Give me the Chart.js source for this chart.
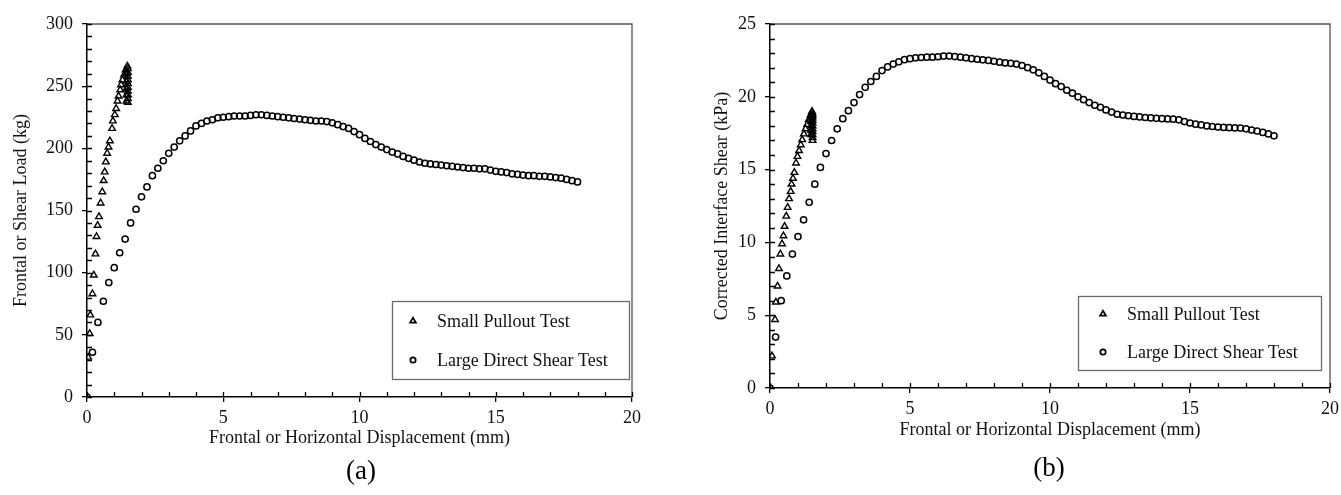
<!DOCTYPE html>
<html>
<head>
<meta charset="utf-8">
<script src="https://cdn.jsdelivr.net/npm/chart.js@4.4.1/dist/chart.umd.min.js"></script>
<style>
  html, body { margin: 0; padding: 0; background: #fff; }
  #wrap { position: relative; width: 1341px; height: 495px; overflow: hidden; background: #fff; }
  .cv { position: absolute; top: 0; }
  .cap { position: absolute; font-family: "Liberation Serif", "Times New Roman", serif; font-size: 27px; color: #000; transform: translate(-50%, -50%); white-space: nowrap; }
</style>
</head>
<body>
<div id="wrap">
  <div class="cv" style="left:0px;width:680px;height:460px;"><canvas id="chartA"></canvas></div>
  <div class="cv" style="left:690px;width:670px;height:460px;"><canvas id="chartB"></canvas></div>
  <div class="cap" style="left:361px;top:470px;">(a)</div>
  <div class="cap" style="left:1049px;top:467px;">(b)</div>
</div>
<script>
// ---------------- DATA ----------------
const seriesNames = ['Small Pullout Test', 'Large Direct Shear Test'];
const xTitle = 'Frontal or Horizontal Displacement (mm)';
const yTitleA = 'Frontal or Shear Load (kg)';
const yTitleB = 'Corrected Interface Shear (kPa)';
const xTicks = [0, 5, 10, 15, 20];
const yTicksA = [0, 50, 100, 150, 200, 250, 300];
const yTicksB = [0, 5, 10, 15, 20, 25];

// (a) Small pullout test: frontal displacement (mm) / frontal load (kg)
const pulloutXA = [0.04, 0.10, 0.12, 0.20, 0.25, 0.31, 0.35, 0.39, 0.44, 0.50, 0.56, 0.61, 0.65, 0.69, 0.74, 0.79, 0.84, 0.92, 0.95, 1.02, 1.07, 1.12, 1.16, 1.22, 1.25, 1.30, 1.36, 1.42, 1.48,
  1.50, 1.50, 1.50, 1.50, 1.50, 1.50, 1.50, 1.50, 1.50, 1.50, 1.45, 1.45, 1.45, 1.45, 1.45];
const pulloutYA = [32, 51, 66, 83, 98, 115, 129, 138, 145, 156, 165, 174, 181, 189, 196, 201, 206, 216, 222, 227, 232, 238, 242, 247, 251, 255, 259, 263, 266,
  264, 261, 258, 255, 252, 249, 246, 243, 240, 237, 260, 254, 248, 243, 238];

// (a) Large direct shear test: horizontal displacement (mm) / shear load (kg)
const shearX = [0, 0.2, 0.4, 0.6, 0.8, 1.0, 1.2, 1.4, 1.6, 1.8, 2.0, 2.2, 2.4, 2.6, 2.8, 3.0, 3.2, 3.4, 3.6, 3.8,
  4.0, 4.2, 4.4, 4.6, 4.8, 5.0, 5.2, 5.4, 5.6, 5.8, 6.0, 6.2, 6.4, 6.6, 6.8, 7.0, 7.2, 7.4, 7.6, 7.8,
  8.0, 8.2, 8.4, 8.6, 8.8, 9.0, 9.2, 9.4, 9.6, 9.8, 10.0, 10.2, 10.4, 10.6, 10.8, 11.0, 11.2, 11.4, 11.6, 11.8,
  12.0, 12.2, 12.4, 12.6, 12.8, 13.0, 13.2, 13.4, 13.6, 13.8, 14.0, 14.2, 14.4, 14.6, 14.8, 15.0, 15.2, 15.4, 15.6, 15.8,
  16.0, 16.2, 16.4, 16.6, 16.8, 17.0, 17.2, 17.4, 17.6, 17.8, 18.0];
const shearYA = [0, 36, 60, 77, 92, 104, 116, 127, 140, 151, 161, 169, 178, 184, 190, 196, 201, 206, 210, 214,
  218, 220, 222, 223, 224.5, 225, 225.5, 226, 226, 226, 226.5, 227, 227, 226.5, 226, 225.5, 225, 224.5, 224, 223.5,
  223, 222.5, 222, 222, 221.5, 220.5, 219, 217.5, 216, 213.5, 211, 208, 205.5, 203, 201, 199, 197, 195.5, 193.5, 192,
  190.5, 189, 188, 187.5, 187, 186.5, 186, 185.5, 185, 184.5, 184, 184, 183.5, 183.5, 182.5, 181.5, 181, 180.5, 179.5, 179,
  178.5, 178, 178, 177.5, 177.5, 177, 176.5, 176, 175, 174, 173];

// (b) Small pullout test: displacement (mm) / corrected interface shear (kPa)
const pulloutXB = [0.07, 0.18, 0.21, 0.27, 0.32, 0.37, 0.43, 0.48, 0.52, 0.58, 0.63, 0.68, 0.74, 0.77, 0.82, 0.87, 0.93, 0.98, 1.04, 1.10, 1.15, 1.21, 1.27, 1.33, 1.39, 1.45, 1.50,
  1.52, 1.52, 1.52, 1.52, 1.52, 1.52, 1.52, 1.52, 1.52, 1.52, 1.52, 1.47, 1.47, 1.47, 1.47, 1.47];
const pulloutYB = [2.2, 4.7, 5.9, 7.0, 8.2, 9.2, 9.9, 10.45, 11.1, 11.8, 12.4, 13.0, 13.5, 14.0, 14.4, 14.8, 15.45, 15.9, 16.3, 16.7, 17.05, 17.45, 17.8, 18.1, 18.45, 18.75, 19.0,
  18.85, 18.7, 18.55, 18.4, 18.2, 18.0, 17.8, 17.6, 17.4, 17.2, 17.0, 18.6, 18.3, 18.0, 17.7, 17.4];

// (b) Large direct shear test: corrected interface shear (kPa)
const shearYB = [0, 3.5, 6.0, 7.7, 9.2, 10.4, 11.55, 12.75, 14.0, 15.15, 16.1, 17.0, 17.8, 18.5, 19.05, 19.6, 20.15, 20.65, 21.05, 21.4,
  21.8, 22.05, 22.25, 22.4, 22.55, 22.62, 22.68, 22.7, 22.72, 22.72, 22.75, 22.8, 22.8, 22.76, 22.72, 22.68, 22.62, 22.58, 22.54, 22.5,
  22.44, 22.38, 22.33, 22.3, 22.25, 22.15, 22.0, 21.85, 21.65, 21.4, 21.15, 20.9, 20.7, 20.45, 20.25, 20.0, 19.8, 19.6, 19.42, 19.28,
  19.1, 18.95, 18.8, 18.75, 18.7, 18.65, 18.62, 18.58, 18.55, 18.52, 18.5, 18.48, 18.46, 18.42, 18.3, 18.2, 18.12, 18.07, 18.0, 17.96,
  17.92, 17.9, 17.88, 17.86, 17.85, 17.8, 17.72, 17.65, 17.55, 17.45, 17.32];

// ---------------- HELPERS ----------------
const FONT = '"Liberation Serif", "Times New Roman", serif';
const toPts = (xs, ys) => xs.map((x, i) => ({ x: x, y: ys[i] }));

function drawMarker(ctx, style, x, y, r) {
  ctx.beginPath();
  if (style === 'triangle') {
    let rad = 0;
    ctx.moveTo(x + Math.sin(rad) * r, y - Math.cos(rad) * r);
    rad += 2 * Math.PI / 3;
    ctx.lineTo(x + Math.sin(rad) * r, y - Math.cos(rad) * r);
    rad += 2 * Math.PI / 3;
    ctx.lineTo(x + Math.sin(rad) * r, y - Math.cos(rad) * r);
    ctx.closePath();
  } else {
    ctx.arc(x, y, r, 0, Math.PI * 2);
  }
  ctx.stroke();
}

const framePlugin = {
  id: 'frame',
  afterDraw(chart, args, o) {
    const { ctx, chartArea: a, scales } = chart;
    const x = scales.x, y = scales.y;
    ctx.save();
    // top and right border of plot box
    ctx.strokeStyle = o.boxColor; ctx.lineWidth = 1.3;
    ctx.beginPath();
    ctx.moveTo(a.left, a.top); ctx.lineTo(a.right, a.top); ctx.lineTo(a.right, a.bottom);
    ctx.stroke();
    // inward minor/major tick marks
    ctx.strokeStyle = '#000'; ctx.lineWidth = 1.3;
    ctx.beginPath();
    for (let v = x.min; v <= x.max + 1e-9; v += o.xMinor) {
      const px = Math.round(x.getPixelForValue(v)) + 0.5;
      ctx.moveTo(px, a.bottom); ctx.lineTo(px, a.bottom - o.len);
    }
    for (let v = y.min; v <= y.max + 1e-9; v += o.yMinor) {
      const py = Math.round(y.getPixelForValue(v)) + 0.5;
      ctx.moveTo(a.left, py); ctx.lineTo(a.left + o.len, py);
    }
    ctx.stroke();
    ctx.restore();
  }
};

const boxLegendPlugin = {
  id: 'boxLegend',
  afterDraw(chart, args, o) {
    const { ctx, chartArea: a } = chart;
    const x0 = a.right - o.right - o.width;
    const y0 = a.bottom - o.bottom - o.height;
    ctx.save();
    ctx.fillStyle = '#fff';
    ctx.fillRect(x0, y0, o.width, o.height);
    ctx.strokeStyle = '#6b6b6b'; ctx.lineWidth = 1.3;
    ctx.strokeRect(x0 + 0.5, y0 + 0.5, o.width, o.height);
    ctx.font = '18px ' + FONT;
    ctx.textBaseline = 'middle';
    ctx.textAlign = 'left';
    chart.data.datasets.forEach((ds, i) => {
      const cy = y0 + o.firstRow + i * o.rowGap;
      ctx.strokeStyle = '#000'; ctx.lineWidth = 1.7;
      drawMarker(ctx, ds.pointStyle, x0 + o.markerX, cy, ds.pointStyle === 'triangle' ? 3.4 : 2.7);
      ctx.fillStyle = '#111';
      ctx.fillText(ds.label, x0 + o.textX, cy + 1);
    });
    ctx.restore();
  }
};

function makeChart(id, cfg) {
  const tickFont = { family: FONT, size: 18 };
  return new Chart(document.getElementById(id), {
    type: 'scatter',
    data: {
      datasets: [
        { label: seriesNames[0], data: toPts(cfg.pX, cfg.pY), pointStyle: 'triangle', pointRadius: 3.8,
          borderColor: '#000', backgroundColor: 'rgba(0,0,0,0)', borderWidth: 1.4, showLine: false },
        { label: seriesNames[1], data: toPts(shearX, cfg.sY), pointStyle: 'circle', pointRadius: 3.1,
          borderColor: '#000', backgroundColor: 'rgba(0,0,0,0)', borderWidth: 1.5, showLine: false }
      ]
    },
    options: {
      responsive: true,
      maintainAspectRatio: false,
      animation: false,
      events: [],
      layout: { padding: { left: 0, top: 24, right: cfg.padRight, bottom: 0 } },
      plugins: {
        legend: { display: false },
        tooltip: { enabled: false },
        frame: { boxColor: '#555', xMinor: 1, yMinor: cfg.yMinor, len: 5 },
        boxLegend: cfg.legend
      },
      scales: {
        x: {
          type: 'linear', min: 0, max: 20,
          afterBuildTicks: s => { s.ticks = xTicks.map(v => ({ value: v })); },
          afterFit: s => { s.height = cfg.xHeight; },
          border: { display: true, color: '#000', width: 1.5 },
          grid: { display: true, drawOnChartArea: false, drawTicks: true, tickLength: 5, color: '#000', lineWidth: 1.3 },
          ticks: { font: tickFont, color: '#111', padding: 5, maxRotation: 0 },
          title: { display: true, text: xTitle, font: tickFont, color: '#111', padding: { top: 0, bottom: cfg.xTitlePad } }
        },
        y: {
          type: 'linear', min: 0, max: cfg.yMax,
          afterBuildTicks: s => { s.ticks = cfg.yTicks.map(v => ({ value: v })); },
          afterFit: s => { s.width = cfg.yWidth; },
          border: { display: true, color: '#000', width: 1.5 },
          grid: { display: true, drawOnChartArea: false, drawTicks: true, tickLength: 5, color: '#000', lineWidth: 1.3 },
          ticks: { font: tickFont, color: '#111', padding: 9 },
          title: { display: true, text: cfg.yTitle, font: tickFont, color: '#111', padding: { top: cfg.yTitlePad, bottom: 0 } }
        }
      }
    },
    plugins: [framePlugin, boxLegendPlugin]
  });
}

makeChart('chartA', {
  pX: pulloutXA, pY: pulloutYA, sY: shearYA,
  yMax: 300, yTicks: yTicksA, yMinor: 10, yTitle: yTitleA,
  padRight: 48, yWidth: 87, xHeight: 63, xTitlePad: 11, yTitlePad: 10,
  legend: { right: 3, bottom: 18, width: 237, height: 78, firstRow: 20, rowGap: 39, markerX: 21, textX: 45 }
});
makeChart('chartB', {
  pX: pulloutXB, pY: pulloutYB, sY: shearYB,
  yMax: 25, yTicks: yTicksB, yMinor: 1, yTitle: yTitleB,
  padRight: 30, yWidth: 80, xHeight: 72, xTitlePad: 19, yTitlePad: 21,
  legend: { right: 9, bottom: 18, width: 243, height: 74, firstRow: 18, rowGap: 38, markerX: 25, textX: 49 }
});
</script>
</body>
</html>
